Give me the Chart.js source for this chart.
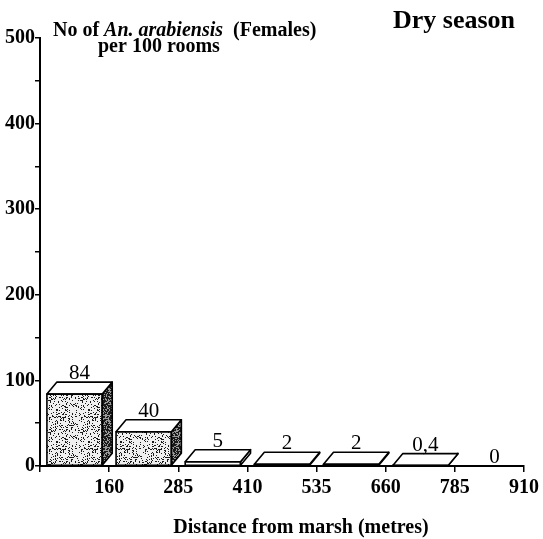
<!DOCTYPE html>
<html>
<head>
<meta charset="utf-8">
<script src="https://cdn.jsdelivr.net/npm/chart.js@4/dist/chart.umd.min.js"></script>
<style>
  html, body { margin: 0; padding: 0; background: #fff; }
  canvas { display: block; }
</style>
</head>
<body>
<canvas id="chart" width="543" height="539"></canvas>
<script>
// distance bins (metres) and female counts per 100 rooms
const binEdges = [35, 160, 285, 410, 535, 660, 785, 910];
const tickLabels = ["", "160", "285", "410", "535", "660", "785", "910"];
const counts = [84, 40, 5, 2, 2, 0.4, 0];

const SERIF = "'Liberation Serif', 'Times New Roman', serif";
const DX = 10, DY = 12;

// dotted fill, built from a fixed hash so it looks the same every time
function stipple(bg, density) {
  const c = document.createElement("canvas");
  c.width = c.height = 32;
  const g = c.getContext("2d");
  g.fillStyle = bg;
  g.fillRect(0, 0, 32, 32);
  g.fillStyle = "#1a1a1a";
  for (let i = 0; i < 32; i++) {
    for (let j = 0; j < 32; j++) {
      let h = Math.imul(i + 1, 73856093) ^ Math.imul(j + 7, 19349663);
      h = Math.imul(h ^ (h >>> 13), 1274126177) >>> 0;
      if ((h % 1000) / 1000 < density) g.fillRect(i, j, 1, 1);
    }
  }
  return g.createPattern(c, "repeat");
}

const frontDots = stipple("#efefef", 0.2);
const sideDots = stipple("#9a9a9a", 0.6);
const frontFill = counts.map(v => (v > 10 ? frontDots : "#fff"));
const sideFill = counts.map(v => (v > 10 ? sideDots : "#fff"));

const points = counts.map((v, i) => ({ x: (binEdges[i] + binEdges[i + 1]) / 2, y: v }));

const bars3d = {
  id: "bars3d",
  afterDatasetsDraw(chart) {
    const ctx = chart.ctx;
    const meta = chart.getDatasetMeta(0);
    meta.data.forEach((bar, i) => {
      const v = counts[i];
      const { x, y, base, width } = bar.getProps(["x", "y", "base", "width"], true);
      const l = x - width / 2, r = x + width / 2;
      ctx.save();
      ctx.lineWidth = 1.6;
      ctx.strokeStyle = "#000";
      ctx.lineJoin = "round";
      let labelY = base - 3;
      if (v > 0) {
        ctx.beginPath();
        ctx.moveTo(r, y);
        ctx.lineTo(r + DX, y - DY);
        ctx.lineTo(r + DX, base - DY);
        ctx.lineTo(r, base);
        ctx.closePath();
        ctx.fillStyle = sideFill[i];
        ctx.fill();
        ctx.stroke();

        ctx.beginPath();
        ctx.moveTo(l, y);
        ctx.lineTo(l + DX, y - DY);
        ctx.lineTo(r + DX, y - DY);
        ctx.lineTo(r, y);
        ctx.closePath();
        ctx.fillStyle = "#fff";
        ctx.fill();
        ctx.stroke();

        ctx.strokeRect(l, y, width, base - y);
        labelY = y - DY - 3;
      }
      ctx.fillStyle = "#000";
      ctx.font = "21px " + SERIF;
      ctx.textAlign = "center";
      ctx.textBaseline = "alphabetic";
      ctx.fillText(String(v).replace(".", ","), x + DX / 2, labelY);
      ctx.restore();
    });
  }
};

const headings = {
  id: "headings",
  afterDraw(chart) {
    const ctx = chart.ctx;
    ctx.save();
    ctx.fillStyle = "#000";
    ctx.textBaseline = "alphabetic";
    ctx.textAlign = "left";

    let x = 53;
    const parts = [
      ["bold 20px " + SERIF, "No of "],
      ["italic bold 20px " + SERIF, "An. arabiensis"],
      ["bold 20px " + SERIF, "  (Females)"]
    ];
    parts.forEach(([f, t]) => {
      ctx.font = f;
      ctx.fillText(t, x, 36);
      x += ctx.measureText(t).width;
    });
    ctx.font = "bold 20px " + SERIF;
    ctx.fillText("per 100 rooms", 98, 52);

    ctx.font = "bold 26px " + SERIF;
    ctx.fillText("Dry season", 393, 28);

    ctx.font = "bold 20px " + SERIF;
    ctx.textAlign = "center";
    ctx.fillText("Distance from marsh (metres)", 301, 533);
    ctx.restore();
  }
};

const tickFont = { family: SERIF, size: 20, weight: "bold" };

new Chart(document.getElementById("chart"), {
  type: "bar",
  data: {
    datasets: [{
      data: points,
      backgroundColor: frontFill,
      borderWidth: 0,
      barPercentage: 0.8,
      categoryPercentage: 1
    }]
  },
  options: {
    responsive: false,
    animation: false,
    layout: { padding: { top: 38, right: 16, left: 0, bottom: 0 } },
    plugins: { legend: { display: false }, tooltip: { enabled: false } },
    scales: {
      x: {
        type: "linear",
        min: binEdges[0],
        max: binEdges[binEdges.length - 1],
        offset: false,
        afterBuildTicks: scale => { scale.ticks = binEdges.map(v => ({ value: v })); },
        afterFit: scale => { scale.height = 73; },
        ticks: {
          autoSkip: false,
          maxRotation: 0,
          padding: 4,
          color: "#000",
          font: tickFont,
          callback: (v, i) => tickLabels[i]
        },
        grid: { offset: false, drawOnChartArea: false, tickLength: 6, color: "#000", lineWidth: 1.5 },
        border: { color: "#000", width: 2 }
      },
      y: {
        min: 0,
        max: 500,
        afterFit: scale => { scale.width = 40; },
        ticks: {
          stepSize: 50,
          padding: 0,
          color: "#000",
          font: tickFont,
          callback: v => (v % 100 === 0 ? v : "")
        },
        grid: { drawOnChartArea: false, tickLength: 5, color: "#000", lineWidth: 1.5 },
        border: { color: "#000", width: 2 }
      }
    }
  },
  plugins: [bars3d, headings]
});
</script>
</body>
</html>
